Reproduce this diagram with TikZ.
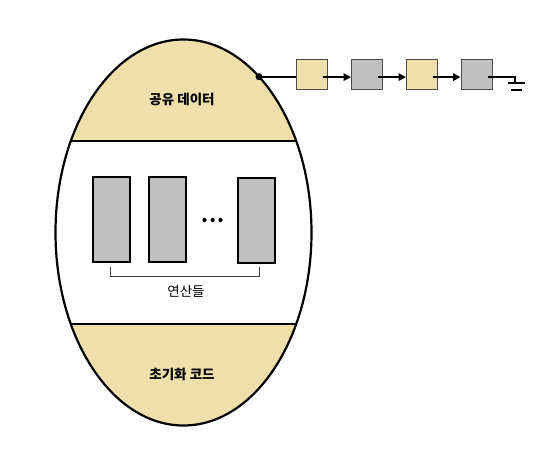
\documentclass[tikz,border=0pt]{standalone}
\usepackage{fontspec}
\setmainfont{Noto Sans CJK KR}
\usetikzlibrary{arrows.meta,calc}
\definecolor{tan}{RGB}{238,223,171}
\definecolor{boxgray}{RGB}{192,192,192}
\begin{document}
\begin{tikzpicture}[x=1pt,y=-1pt,
  outline/.style={line width=2.2pt},
  listbox/.style={draw, draw=black!70, line width=1pt, minimum width=31pt, minimum height=30pt, inner sep=0pt},
  opbox/.style={draw, fill=boxgray, line width=2pt, minimum width=37pt, minimum height=85pt, inner sep=0pt},
  ptr/.style={line width=2pt, -{Triangle[length=7.5pt,width=7.5pt]}},
  lbl/.style={font=\fontsize{13.5}{15}\selectfont\bfseries, inner sep=0pt},
  oplbl/.style={font=\fontsize{13.5}{15}\selectfont, inner sep=0pt}]
\useasboundingbox (0,0) rectangle (553,471);
% egg body
\begin{scope}
  \clip (183.5,232.5) ellipse [x radius=128, y radius=193];
  \fill[tan] (40,30) rectangle (330,140.7);
  \fill[tan] (40,324) rectangle (330,440);
\end{scope}
\draw[outline] (183.5,232.5) ellipse [x radius=128, y radius=193];
\coordinate (tl) at (71,140.7);
\coordinate (tr) at (296,140.7);
\coordinate (bl) at (71,324);
\coordinate (br) at (296,324);
\draw[outline] (tl) -- (tr);
\draw[outline] (bl) -- (br);
\node[lbl] (shared) at (182,99) {공유 데이터};
\node[lbl] (init) at (182,374) {초기화 코드};
% operations
\node[opbox] (r1) at (111.3,219.2) {};
\node[opbox] (r2) at (167.8,219.2) {};
\node[opbox, line width=2.4pt] (r3) at (256.2,220.2) {};
\foreach \x in {204.5,212.7,220.5} \fill (\x,220) circle (2.1);
\coordinate (bk1) at (110.7,266.7);
\coordinate (bk2) at (259.3,266.7);
\draw[line width=1pt, black!75] (bk1) -- ++(0,9.3) -| (bk2);
\node[oplbl] (ops) at (186,291.5) {연산들};
% linked list
\coordinate (dot) at (259,76.7);
\fill (dot) circle (3.5);
\node[listbox, fill=tan] (n1) at (311.8,74.3) {};
\node[listbox, fill=boxgray] (n2) at (367,74.3) {};
\node[listbox, fill=tan] (n3) at (422,74.3) {};
\node[listbox, fill=boxgray] (n4) at (476.5,74.3) {};
\draw[line width=2pt] (dot) -- (dot -| n1.west);
\draw[ptr] ($(n1.center)+(11,2.8)$) -- ($(n2.west)+(0,2.8)$);
\draw[ptr] ($(n2.center)+(11,2.8)$) -- ($(n3.west)+(0,2.8)$);
\draw[ptr] ($(n3.center)+(11,2.8)$) -- ($(n4.west)+(0,2.8)$);
\coordinate (gnd) at (515,77.1);
\draw[line width=2pt] ($(n4.center)+(11,2.8)$) -- (gnd) -- ++(0,6);
\draw[line width=2pt] ($(gnd)+(-7,6)$) -- ++(17,0);
\draw[line width=2pt] ($(gnd)+(-4,12.5)$) -- ++(11,0);
\end{tikzpicture}
\end{document}
